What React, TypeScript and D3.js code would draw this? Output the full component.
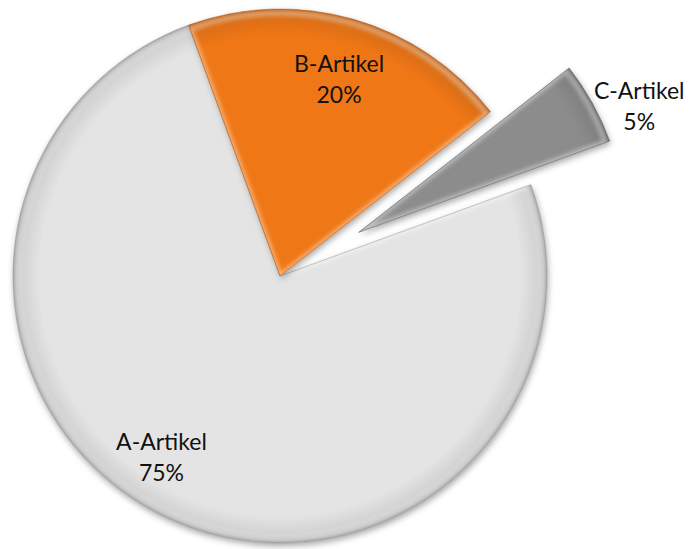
import React from "react";
import * as d3 from "d3";

const categories = ["A-Artikel", "B-Artikel", "C-Artikel"];
const values = [75, 20, 5];
const percentLabels = ["75%", "20%", "5%"];

const W = 692;
const H = 549;
const CX = 280;
const CY = 276;
const R = 267;
const START_DEG = 70;
const explodeBy = [0, 0, 90];
const fills = ["#E4E4E4", "#EF7714", "#8C8C8C"];
const rims = ["#9a9a9a", "#b8570c", "#5e5e5e"];
const labelPlace = [
  { r: 0.815, da: 8 },
  { r: 0.765, da: 0.8 },
  { r: 1.15, da: 5 },
];

export default function App() {
  const pie = d3
    .pie<number>()
    .sort(null)
    .startAngle((START_DEG * Math.PI) / 180)
    .endAngle(((START_DEG + 360) * Math.PI) / 180);
  const arcs = pie(values);
  const arcGen = d3.arc<d3.PieArcDatum<number>>().innerRadius(0).outerRadius(R);
  const innerArc = d3.arc<d3.PieArcDatum<number>>().innerRadius(0).outerRadius(R - 4);

  return (
    <svg
      width={W}
      height={H}
      style={{ position: "absolute", left: 0, top: 0, background: "#fff" }}
      fontFamily="Lato, 'Open Sans', sans-serif"
    >
      <defs>
        <filter id="shadow" x="-20%" y="-20%" width="140%" height="140%">
          <feDropShadow dx="1" dy="3" stdDeviation="3" floodColor="#000" floodOpacity="0.35" />
        </filter>
        <filter id="soft" x="-20%" y="-20%" width="140%" height="140%">
          <feGaussianBlur stdDeviation="2" />
        </filter>
        {arcs.map((a, i) => (
          <radialGradient
            key={i}
            id={`g${i}`}
            gradientUnits="userSpaceOnUse"
            cx={0}
            cy={0}
            r={R}
          >
            <stop offset="0.9" stopColor={fills[i]} />
            <stop offset="0.97" stopColor={d3.color(fills[i])!.darker(0.25).toString()} />
            <stop offset="1" stopColor={rims[i]} />
          </radialGradient>
        ))}
        {arcs.map((a, i) => (
          <clipPath key={i} id={`c${i}`}>
            <path d={arcGen(a) || ""} />
          </clipPath>
        ))}
      </defs>
      {arcs.map((a, i) => {
        const mid = (a.startAngle + a.endAngle) / 2;
        const ox = CX + explodeBy[i] * Math.sin(mid);
        const oy = CY - explodeBy[i] * Math.cos(mid);
        return (
          <g key={categories[i]} transform={`translate(${ox},${oy})`}>
            <path d={arcGen(a) || ""} fill={`url(#g${i})`} filter="url(#shadow)" />
            <g clipPath={`url(#c${i})`}>
              <path
                d={innerArc(a) || ""}
                fill="none"
                stroke="#ffffff"
                strokeOpacity={0.45}
                strokeWidth={5}
                filter="url(#soft)"
              />
            </g>
            <path d={arcGen(a) || ""} fill="none" stroke={rims[i]} strokeWidth={0.8} strokeOpacity={0.7} />
          </g>
        );
      })}
      {arcs.map((a, i) => {
        const base = (a.startAngle + a.endAngle) / 2;
        const mid = base + (labelPlace[i].da * Math.PI) / 180;
        const ox = CX + explodeBy[i] * Math.sin(base);
        const oy = CY - explodeBy[i] * Math.cos(base);
        const lr = R * labelPlace[i].r;
        const lx = ox + lr * Math.sin(mid);
        const ly = oy - lr * Math.cos(mid);
        return (
          <text key={`t${i}`} x={lx} y={ly} textAnchor="middle" fontSize={23} fill="#111">
            <tspan x={lx} dy={-8}>{categories[i]}</tspan>
            <tspan x={lx} dy={31}>{percentLabels[i]}</tspan>
          </text>
        );
      })}
    </svg>
  );
}
